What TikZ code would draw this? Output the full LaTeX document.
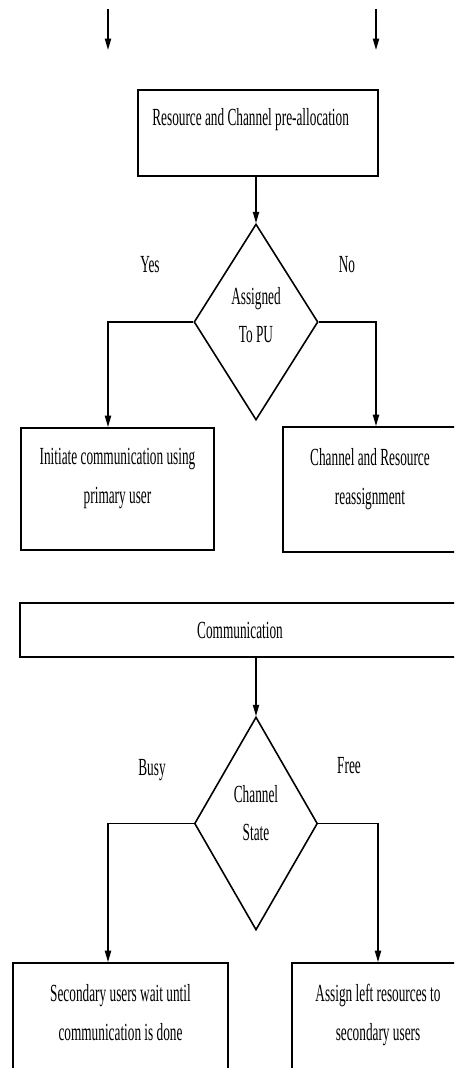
\documentclass[tikz,border=0pt]{standalone}
\usepackage{fontspec}
\newfontfamily\flowfont{Liberation Serif}[FakeStretch=0.54]
\usetikzlibrary{shapes.geometric,arrows.meta,positioning}

\begin{document}
\begin{tikzpicture}[
  every node/.style={font=\flowfont\fontsize{14}{22}\selectfont},
  box/.style={draw, line width=1pt, align=center, inner sep=0pt},
  decision/.style={draw, line width=0.9pt, diamond, align=center, inner sep=0pt, text depth=8pt},
  flow/.style={line width=0.9pt, -{Triangle[length=6.5pt,width=3.5pt]}}
]
\useasboundingbox (0,0) rectangle (9.08,-21.36);
\clip (0,0) rectangle (9.08,-21.36);

\coordinate (inL0) at (2.16,-0.18);
\coordinate (inL) at (2.16,-1.0);
\coordinate (inR0) at (7.52,-0.18);
\coordinate (inR) at (7.52,-1.0);
\draw[flow] (inL0) -- (inL);
\draw[flow] (inR0) -- (inR);

\node[box, minimum width=4.8cm, minimum height=1.72cm] (pre) at (5.16,-2.66) {};
\node[anchor=west] (pretxt) at ([xshift=0.18cm,yshift=-0.6cm]pre.north west) {Resource and Channel pre-allocation};

\node[decision, minimum width=2.48cm, minimum height=3.92cm] (pu) at (5.12,-6.44) {Assigned\\To PU};
\node (yes) at (3.0,-5.3) {Yes};
\node (no) at (6.94,-5.3) {No};
\draw[flow] (pre.south -| pu.north) -- (pu.north);

\node[box, minimum width=3.86cm, minimum height=2.44cm, text depth=15pt] (init) at (2.35,-9.78) {Initiate communication using\\primary user};
\node[box, minimum width=3.48cm, minimum height=2.5cm, text depth=15pt] (reas) at (7.4,-9.79) {Channel and Resource\\reassignment};
\draw[flow] (pu.west) -| (init.north -| inL);
\draw[flow] (pu.east) -| (reas.north -| inR);

\node[box, minimum width=8.8cm, minimum height=1.08cm] (comm) at (4.8,-12.6) {Communication};

\node[decision, minimum width=2.46cm, minimum height=4.26cm, text depth=12pt] (state) at (5.12,-16.47) {Channel\\State};
\node (busy) at (3.04,-15.4) {Busy};
\node (free) at (6.98,-15.32) {Free};
\draw[flow] (comm.south -| state.north) -- (state.north);

\node[box, minimum width=4.3cm, minimum height=2.5cm, text depth=15pt] (wait) at (2.41,-20.51) {Secondary users wait until\\communication is done};
\node[box, minimum width=3.44cm, minimum height=2.5cm, text depth=15pt] (assign) at (7.56,-20.51) {Assign left resources to\\secondary users};
\draw[flow] (state.west) -| (wait.north -| inL);
\draw[flow] (state.east) -| (assign.north);
\end{tikzpicture}
\end{document}
